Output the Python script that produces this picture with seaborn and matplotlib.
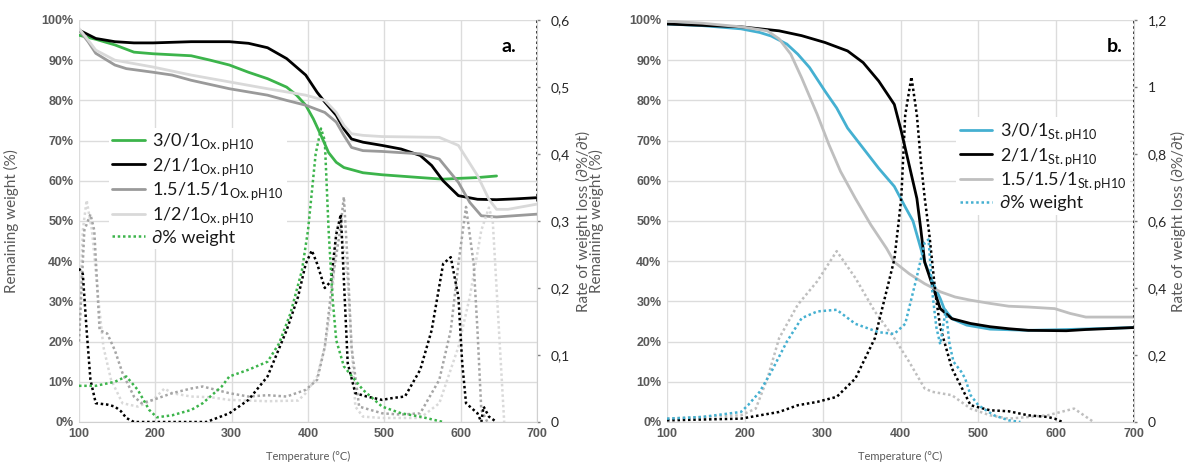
import numpy as np
import pandas as pd
import matplotlib
matplotlib.use("Agg")
import matplotlib.pyplot as plt
import matplotlib.ticker as ticker
import seaborn as sns

# Panel a: remaining weight (%)
a_t_301 = [100, 122, 147, 172, 197, 247, 272, 297, 322, 347, 372, 385, 397, 407, 417, 427, 437, 447, 472, 497, 547, 577, 597, 622, 647]
a_w_301 = [96.2, 95.2, 93.8, 92.0, 91.6, 91.1, 90.0, 88.8, 87.0, 85.4, 83.3, 81.3, 78.8, 75.4, 71.3, 67.0, 64.6, 63.3, 62.0, 61.5, 60.8, 60.4, 60.6, 60.8, 61.2]
a_t_211 = [100, 122, 147, 172, 197, 247, 297, 322, 347, 372, 397, 412, 422, 437, 447, 457, 472, 497, 522, 547, 562, 577, 597, 622, 647, 672, 700]
a_w_211 = [97.5, 95.4, 94.6, 94.3, 94.3, 94.6, 94.6, 94.2, 93.1, 90.4, 86.3, 82.0, 79.6, 76.3, 72.9, 70.4, 69.6, 68.8, 67.9, 66.3, 63.8, 60.0, 56.3, 55.4, 55.3, 55.5, 55.8]
a_t_1515 = [100, 112, 122, 147, 162, 197, 222, 247, 297, 347, 372, 397, 422, 437, 447, 457, 472, 497, 547, 572, 597, 612, 627, 647, 700]
a_w_1515 = [97.5, 94.6, 91.7, 88.8, 87.9, 87.0, 86.3, 85.0, 82.9, 81.3, 80.0, 78.8, 77.0, 74.6, 71.3, 68.3, 67.5, 67.3, 66.7, 65.4, 59.6, 54.6, 51.3, 51.0, 51.7]
a_t_121 = [100, 112, 122, 147, 197, 247, 297, 347, 397, 422, 437, 447, 457, 472, 497, 572, 597, 622, 637, 647, 662, 700]
a_w_121 = [97.9, 95.0, 92.5, 90.0, 88.3, 86.3, 84.6, 82.9, 81.3, 80.0, 77.0, 73.8, 71.7, 71.3, 71.0, 70.8, 68.8, 61.3, 55.4, 52.9, 52.9, 54.2]

# Panel a: rate of weight loss
a_td_301 = [100, 122, 147, 162, 177, 192, 202, 222, 247, 262, 287, 297, 322, 347, 362, 377, 392, 400, 410, 417, 422, 427, 432, 437, 447, 472, 497, 522, 547, 577]
a_d_301 = [0.054, 0.054, 0.06, 0.068, 0.048, 0.018, 0.007, 0.01, 0.018, 0.028, 0.053, 0.068, 0.078, 0.09, 0.117, 0.162, 0.226, 0.286, 0.40, 0.438, 0.42, 0.286, 0.187, 0.122, 0.083, 0.048, 0.023, 0.013, 0.008, 0.0]
a_td_211 = [100, 105, 110, 115, 122, 137, 147, 155, 162, 172, 247, 267, 297, 322, 347, 372, 387, 397, 405, 412, 422, 430, 437, 443, 452, 462, 477, 497, 512, 527, 547, 562, 577, 587, 597, 602, 607, 622, 627, 630, 637, 647]
a_d_211 = [0.229, 0.221, 0.137, 0.063, 0.028, 0.026, 0.023, 0.016, 0.006, 0.0, 0.0, 0.0, 0.013, 0.033, 0.068, 0.137, 0.187, 0.236, 0.256, 0.236, 0.2, 0.21, 0.28, 0.31, 0.088, 0.043, 0.038, 0.033, 0.036, 0.038, 0.078, 0.137, 0.236, 0.246, 0.187, 0.088, 0.028, 0.013, 0.0, 0.023, 0.008, 0.0]
a_td_1515 = [100, 107, 115, 120, 127, 137, 147, 157, 172, 182, 197, 222, 247, 262, 297, 322, 347, 372, 397, 412, 422, 432, 442, 447, 452, 457, 467, 497, 522, 547, 572, 587, 597, 607, 617, 622, 627, 635]
a_d_1515 = [0.12, 0.286, 0.31, 0.286, 0.137, 0.132, 0.107, 0.073, 0.038, 0.028, 0.033, 0.043, 0.05, 0.053, 0.043, 0.038, 0.04, 0.038, 0.048, 0.063, 0.112, 0.211, 0.286, 0.336, 0.236, 0.112, 0.023, 0.013, 0.011, 0.013, 0.063, 0.137, 0.236, 0.321, 0.236, 0.137, 0.018, 0.0]
a_td_121 = [100, 105, 110, 117, 125, 132, 142, 157, 177, 197, 212, 222, 247, 272, 297, 347, 387, 397, 412, 422, 432, 437, 442, 452, 462, 472, 497, 547, 572, 597, 612, 627, 637, 642, 647, 657]
a_d_121 = [0.137, 0.286, 0.331, 0.286, 0.187, 0.112, 0.063, 0.028, 0.023, 0.033, 0.05, 0.043, 0.038, 0.037, 0.033, 0.031, 0.032, 0.043, 0.068, 0.112, 0.187, 0.286, 0.30, 0.211, 0.023, 0.008, 0.006, 0.006, 0.028, 0.112, 0.187, 0.286, 0.32, 0.30, 0.2, 0.0]
a_tail_t = [700, 700]
a_tail_d = [0.33, 0.62]

# Panel b: remaining weight (%)
b_t_301 = [100, 145, 195, 219, 234, 254, 268, 283, 303, 318, 332, 352, 372, 392, 406, 416, 431, 441, 451, 456, 466, 485, 515, 564, 613, 700]
b_w_301 = [99.0, 98.6, 97.8, 96.9, 96.0, 94.0, 91.5, 88.2, 82.3, 78.1, 73.1, 68.1, 63.1, 58.6, 53.5, 50.0, 39.8, 34.9, 30.7, 28.2, 25.7, 24.1, 23.1, 22.8, 23.0, 23.5]
b_t_211 = [100, 195, 244, 273, 303, 332, 352, 372, 392, 401, 411, 421, 426, 431, 441, 451, 466, 490, 515, 539, 564, 613, 638, 700]
b_w_211 = [99.0, 98.3, 97.3, 96.1, 94.4, 92.3, 89.4, 84.8, 79.0, 72.3, 64.0, 55.6, 48.0, 39.8, 34.0, 28.2, 25.7, 24.5, 23.7, 23.2, 22.8, 22.7, 23.0, 23.5]
b_t_1515 = [100, 145, 195, 229, 244, 259, 273, 293, 308, 323, 342, 362, 382, 392, 411, 431, 451, 470, 490, 515, 539, 564, 598, 618, 638, 700]
b_w_1515 = [99.7, 99.2, 98.3, 97.3, 95.3, 91.5, 85.6, 76.5, 69.0, 62.3, 55.6, 49.0, 43.2, 39.8, 36.9, 34.4, 32.4, 31.1, 30.3, 29.5, 28.8, 28.6, 28.2, 27.0, 26.1, 26.1]

# Panel b: rate of weight loss
b_td_301 = [100, 145, 195, 204, 219, 234, 254, 273, 293, 318, 342, 372, 392, 406, 421, 431, 436, 441, 446, 451, 458, 463, 468, 478, 483, 490, 500, 520, 539, 554]
b_d_301 = [0.01, 0.015, 0.03, 0.05, 0.09, 0.15, 0.24, 0.31, 0.33, 0.335, 0.293, 0.268, 0.263, 0.293, 0.434, 0.535, 0.545, 0.384, 0.283, 0.232, 0.333, 0.232, 0.18, 0.15, 0.13, 0.08, 0.05, 0.02, 0.005, 0.0]
b_td_211 = [100, 195, 244, 268, 293, 318, 342, 367, 392, 397, 401, 406, 414, 421, 426, 431, 437, 445, 451, 466, 490, 515, 539, 564, 589, 598, 608]
b_d_211 = [0.005, 0.01, 0.03, 0.05, 0.06, 0.075, 0.13, 0.25, 0.485, 0.585, 0.67, 0.916, 1.03, 0.916, 0.78, 0.67, 0.56, 0.38, 0.283, 0.16, 0.05, 0.035, 0.032, 0.02, 0.015, 0.01, 0.0]
b_td_1515 = [100, 145, 195, 214, 229, 244, 268, 293, 318, 342, 367, 392, 411, 431, 441, 466, 490, 515, 539, 589, 623, 648]
b_d_1515 = [0.01, 0.015, 0.02, 0.04, 0.13, 0.25, 0.35, 0.42, 0.51, 0.43, 0.33, 0.25, 0.18, 0.1, 0.09, 0.08, 0.04, 0.02, 0.01, 0.02, 0.04, 0.0]
b_tail_t = [700, 700]
b_tail_d = [0.0, 1.25]

green = "#3cb44b"
blue = "#45b0d1"
grey_dark = "#9a9a9a"
grey_light = "#d9d9d9"
grey_mid = "#bfbfbf"
txt = "#595959"

sns.set_style("white")
plt.rcParams["font.family"] = ["Lato", "DejaVu Sans"]
plt.rcParams["mathtext.fontset"] = "custom"
plt.rcParams["mathtext.sf"] = "Lato"

fig = plt.figure(figsize=(11.86, 4.68), dpi=100)
ax_a = fig.add_axes([0.0666, 0.0983, 0.3862, 0.859])
ax_b = fig.add_axes([0.5624, 0.0983, 0.3938, 0.859])


def line(ax, t, v, color, label=None, dotted=False, lw=2.0):
    df = pd.DataFrame({"T": t, "v": v})
    sns.lineplot(data=df, x="T", y="v", ax=ax, color=color, lw=lw,
                 linestyle=(0, (1, 1.1)) if dotted else "-",
                 label=label if label else "_nolegend_",
                 sort=False, estimator=None, legend=False)


def style(ax, ax2, rmax, rstep, rfmt, ylab_l, ylab_r):
    ax.set_xlim(100, 700)
    ax.set_ylim(0, 100)
    ax.set_xticks(range(100, 701, 100))
    ax.set_yticks(range(0, 101, 10))
    ax.yaxis.set_major_formatter(ticker.FuncFormatter(lambda y, _: f"{y:.0f}%"))
    ax.grid(True, color="#dcdcdc", lw=1)
    for s in ["top", "left", "right"]:
        ax.spines[s].set_visible(False)
    ax.spines["bottom"].set_color("#d0d0d0")
    ax.tick_params(length=0, labelsize=9, labelcolor=txt, pad=4)
    for lab in ax.get_xticklabels() + ax.get_yticklabels():
        lab.set_fontfamily(["Liberation Sans Narrow", "Liberation Sans"])
        lab.set_fontweight("bold")
    ax.set_xlabel("Temperature (°C)", fontsize=8, color=txt)
    ax.set_ylabel("Remaining weight (%)", fontsize=11, color=txt)
    ax.xaxis.set_label_coords(0.5, -0.072)
    ax.yaxis.set_label_coords(ylab_l, 0.5)

    ax2.set_ylim(0, rmax)
    ax2.set_yticks(np.arange(0, rmax + 1e-9, rstep))
    ax2.yaxis.set_major_formatter(ticker.FuncFormatter(rfmt))
    for s in ["top", "left", "bottom"]:
        ax2.spines[s].set_visible(False)
    ax2.spines["right"].set_color("#d0d0d0")
    ax2.tick_params(axis="y", length=2, width=1, color="#7f7f7f", labelsize=10,
                    labelcolor="#262626", pad=8)
    ax2.set_ylabel("Rate of weight loss (∂%/∂t)", fontsize=11, color=txt)
    ax2.yaxis.set_label_coords(ylab_r, 0.5)
    ax2.grid(False)


def comma(v, _):
    s = f"{v:.1f}".rstrip("0").rstrip(".")
    return s.replace(".", ",")


# Panel a
line(ax_a, a_t_301, a_w_301, green, r"3/0/1$_\mathsf{Ox.pH10}$")
line(ax_a, a_t_211, a_w_211, "black", r"2/1/1$_\mathsf{Ox.pH10}$")
line(ax_a, a_t_1515, a_w_1515, grey_dark, r"1.5/1.5/1$_\mathsf{Ox.pH10}$")
line(ax_a, a_t_121, a_w_121, grey_light, r"1/2/1$_\mathsf{Ox.pH10}$")
ax_a2 = ax_a.twinx()
line(ax_a2, a_td_121, a_d_121, grey_light, dotted=True, lw=1.8)
line(ax_a2, a_td_1515, a_d_1515, "#a6a6a6", dotted=True, lw=1.8)
line(ax_a2, a_td_211, a_d_211, "black", dotted=True, lw=1.8)
line(ax_a2, a_td_301, a_d_301, green, "∂% weight", dotted=True, lw=1.8)
line(ax_a2, a_tail_t, a_tail_d, "black", dotted=True, lw=1.8)
style(ax_a, ax_a2, 0.6, 0.1, comma, -0.13, 1.085)

# Panel b
line(ax_b, b_t_301, b_w_301, blue, r"3/0/1$_\mathsf{St.pH10}$")
line(ax_b, b_t_211, b_w_211, "black", r"2/1/1$_\mathsf{St.pH10}$")
line(ax_b, b_t_1515, b_w_1515, grey_mid, r"1.5/1.5/1$_\mathsf{St.pH10}$")
ax_b2 = ax_b.twinx()
line(ax_b2, b_td_1515, b_d_1515, grey_mid, dotted=True, lw=1.8)
line(ax_b2, b_td_211, b_d_211, "black", dotted=True, lw=1.8)
line(ax_b2, b_td_301, b_d_301, blue, "∂% weight", dotted=True, lw=1.8)
line(ax_b2, b_tail_t, b_tail_d, "black", dotted=True, lw=1.8)
style(ax_b, ax_b2, 1.2, 0.2, comma, -0.135, 1.08)

for ax, ax2, tag, anchor, tx in [(ax_a, ax_a2, "a.", (0.045, 0.755), 0.955),
                                  (ax_b, ax_b2, "b.", (0.6, 0.78), 0.975)]:
    h1, l1 = ax.get_legend_handles_labels()
    h2, l2 = ax2.get_legend_handles_labels()
    leg = ax2.legend(h1 + h2, l1 + l2, loc="upper left", bbox_to_anchor=anchor,
                     fontsize=13, frameon=True, facecolor="white", edgecolor="none",
                     framealpha=1, fancybox=False, handlelength=1.8, handletextpad=0.4,
                     labelspacing=0.15, borderpad=0.2)
    for t in leg.get_texts():
        t.set_color("#1a1a1a")
    ax2.text(tx, 0.935, tag, transform=ax2.transAxes, ha="right", va="center",
             fontsize=14, fontweight="bold", color="black")

fig.savefig("out.png", dpi=100)
